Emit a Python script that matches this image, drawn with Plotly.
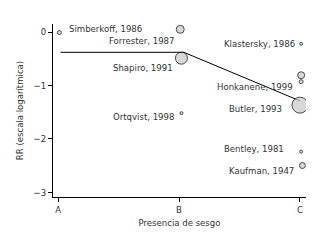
import plotly.graph_objects as go

# Study data
studies = ["Simberkoff, 1986", "Forrester, 1987", "Shapiro, 1991", "Ortqvist, 1998",
           "Klastersky, 1986", "Honkanene, 1999", "Honkanene, 1999 (b)", "Butler, 1993",
           "Bentley, 1981", "Kaufman, 1947"]
bias_x = [0.01, 1.01, 1.02, 1.02, 2.01, 2.01, 2.01, 2.0, 2.01, 2.02]
log_rr = [-0.01, 0.05, -0.49, -1.52, -0.22, -0.81, -0.93, -1.37, -2.24, -2.5]
weight = [4, 8, 12, 3, 3, 7, 4, 16, 3, 6]
show_label = [True, True, True, True, True, True, False, True, True, True]
label_dx = [8, -4, -6, -5, -4, -6, 0, -16, -15, -6]
label_dy = [4, -11, -9, -3, 0, -11, 0, -3, 3, -5]

# Fitted line
fit_x = [0.02, 1.04, 2.0]
fit_y = [-0.38, -0.38, -1.29]

tick_vals = [0, 1, 2]
tick_text = ["A", "B", "C"]
y_ticks = [0, -1, -2, -3]

FONT = "Liberation Sans Narrow, DejaVu Sans Condensed, Arial Narrow, sans-serif"

fig = go.Figure()
fig.add_trace(go.Scatter(x=fit_x, y=fit_y, mode="lines",
                         line=dict(color="black", width=1), hoverinfo="skip"))
fig.add_trace(go.Scatter(x=bias_x, y=log_rr, mode="markers",
                         marker=dict(size=weight, color="#c8c8c8",
                                     line=dict(color="black", width=1)),
                         hoverinfo="skip"))

for s, x, y, show, dx, dy in zip(studies, bias_x, log_rr, show_label, label_dx, label_dy):
    if not show:
        continue
    fig.add_annotation(x=x, y=y, text=s, showarrow=False,
                       xanchor="left" if dx > 0 else "right", yanchor="middle",
                       xshift=dx, yshift=dy,
                       font=dict(family=FONT, size=9.5, color="#333"))

fig.update_layout(
    width=332, height=251,
    margin=dict(l=45, r=34, t=16, b=62),
    paper_bgcolor="white", plot_bgcolor="white",
    showlegend=False,
    font=dict(family=FONT, size=9.5, color="#333"),
    xaxis=dict(range=[-0.042, 2.05], tickvals=tick_vals, ticktext=tick_text,
               automargin=False,
               showline=True, linecolor="black", linewidth=1,
               ticks="outside", ticklen=4, tickcolor="black",
               showgrid=False, zeroline=False,
               title=dict(text="Presencia de sesgo", standoff=4,
                          font=dict(family=FONT, size=9.5, color="#333"))),
    yaxis=dict(range=[-3.09, 0.15], tickvals=y_ticks,
               automargin=False,
               showline=True, linecolor="black", linewidth=1,
               ticks="outside", ticklen=4, tickcolor="black",
               showgrid=False, zeroline=False,
               title=dict(text="RR (escala logarítmica)", standoff=8,
                          font=dict(family=FONT, size=9.5, color="#333"))),
)

fig.write_html("out.html")
